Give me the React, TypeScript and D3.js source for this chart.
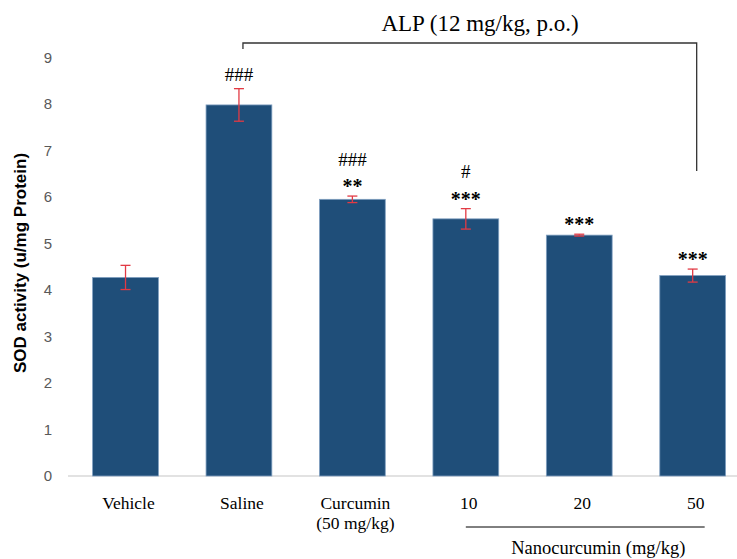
import { useEffect, useRef } from "react";
import * as d3 from "d3";

const W = 737;
const H = 559;

const groups = ["Vehicle", "Saline", "Curcumin", "10", "20", "50"];
const means = [4.27, 7.98, 5.95, 5.53, 5.18, 4.31];
const errors = [0.26, 0.35, 0.07, 0.22, 0.02, 0.14];
const hashMarks = ["", "###", "###", "#", "", ""];
const starMarks = ["", "", "**", "***", "***", "***"];
const subLabels = ["", "", "(50 mg/kg)", "", "", ""];
const yTicks = [0, 1, 2, 3, 4, 5, 6, 7, 8, 9];

const SERIF = "'Liberation Serif', 'Times New Roman', serif";
const SANS = "'Liberation Sans', Arial, sans-serif";

export default function App() {
  const ref = useRef<SVGGElement | null>(null);

  const x = d3
    .scaleBand<string>()
    .domain(groups)
    .range([68.8, 749.4])
    .paddingInner(0.42)
    .paddingOuter(0.21);
  const y = d3.scaleLinear().domain([0, 9]).range([476, 57.5]);

  useEffect(() => {
    document.body.style.margin = "0";
    const g = d3.select(ref.current);
    g.selectAll("*").remove();

    // y axis: labels only
    const axis = g
      .append("g")
      .attr("transform", "translate(68,0)")
      .call(d3.axisLeft(y).tickValues(yTicks).tickSize(0).tickPadding(16));
    axis.select(".domain").remove();
    axis
      .selectAll("text")
      .attr("fill", "#595959")
      .style("font-family", SANS)
      .style("font-size", "15px");

    // baseline
    g.append("line")
      .attr("x1", 68)
      .attr("x2", W)
      .attr("y1", y(0))
      .attr("y2", y(0))
      .attr("stroke", "#d9d9d9")
      .attr("stroke-width", 1.5);

    // bars
    g.selectAll("rect.bar")
      .data(groups)
      .join("rect")
      .attr("class", "bar")
      .attr("x", (d) => x(d)!)
      .attr("width", x.bandwidth())
      .attr("y", (_, i) => y(means[i]))
      .attr("height", (_, i) => y(0) - y(means[i]))
      .attr("fill", "#1f4e79")
      .attr("stroke", "#7f9fc0")
      .attr("stroke-width", 0.8);

    // error bars
    const cx = (i: number) => x(groups[i])! + x.bandwidth() / 2;
    groups.forEach((_, i) => {
      const top = y(means[i] + errors[i]);
      const bot = y(means[i] - errors[i]);
      const eb = g.append("g").attr("stroke", "#e23a44").attr("stroke-width", 1.3);
      eb.append("line").attr("x1", cx(i)).attr("x2", cx(i)).attr("y1", top).attr("y2", bot);
      eb.append("line").attr("x1", cx(i) - 5).attr("x2", cx(i) + 5).attr("y1", top).attr("y2", top);
      eb.append("line").attr("x1", cx(i) - 5).attr("x2", cx(i) + 5).attr("y1", bot).attr("y2", bot);

      // significance marks
      let yy = top - 14;
      if (starMarks[i]) {
        g.append("text")
          .attr("x", cx(i))
          .attr("y", yy + 11)
          .attr("text-anchor", "middle")
          .style("font-family", SERIF)
          .style("font-size", "20px")
          .style("font-weight", "bold")
          .attr("fill", "#000")
          .text(starMarks[i]);
        yy -= 23;
      }
      if (hashMarks[i]) {
        g.append("text")
          .attr("x", cx(i))
          .attr("y", yy + 6.5)
          .attr("text-anchor", "middle")
          .style("font-family", SERIF)
          .style("font-size", "19px")
          .attr("fill", "#000")
          .text(hashMarks[i]);
      }
    });

    // x labels
    groups.forEach((d, i) => {
      g.append("text")
        .attr("x", cx(i) + 3)
        .attr("y", 509)
        .attr("text-anchor", "middle")
        .style("font-family", SERIF)
        .style("font-size", "17.5px")
        .attr("fill", "#000")
        .text(d);
      if (subLabels[i]) {
        g.append("text")
          .attr("x", cx(i) + 3)
          .attr("y", 529)
          .attr("text-anchor", "middle")
          .style("font-family", SERIF)
          .style("font-size", "17.5px")
          .attr("fill", "#000")
          .text(subLabels[i]);
      }
    });

    // Nanocurcumin group line and label
    g.append("line")
      .attr("x1", cx(3))
      .attr("x2", cx(5) + 12)
      .attr("y1", 527)
      .attr("y2", 527)
      .attr("stroke", "#000")
      .attr("stroke-width", 1);
    g.append("text")
      .attr("x", (cx(3) + cx(5)) / 2 + 19)
      .attr("y", 554)
      .attr("text-anchor", "middle")
      .style("font-family", SERIF)
      .style("font-size", "18.5px")
      .attr("fill", "#000")
      .text("Nanocurcumin (mg/kg)");

    // ALP bracket
    const bx1 = cx(1) + 4;
    const bx2 = cx(5) + 4;
    g.append("path")
      .attr("d", `M${bx1},49V43H${bx2}V171`)
      .attr("fill", "none")
      .attr("stroke", "#333")
      .attr("stroke-width", 1.3);
    g.append("text")
      .attr("x", 480)
      .attr("y", 31)
      .attr("text-anchor", "middle")
      .style("font-family", SERIF)
      .style("font-size", "23px")
      .attr("fill", "#000")
      .text("ALP (12 mg/kg, p.o.)");

    // y axis title
    g.append("text")
      .attr("transform", `translate(26,${263}) rotate(-90)`)
      .attr("text-anchor", "middle")
      .style("font-family", SANS)
      .style("font-size", "17px")
      .style("font-weight", "bold")
      .attr("fill", "#000")
      .text("SOD activity (u/mg Protein)");
  }, []);

  return (
    <svg width={W} height={H} style={{ display: "block", background: "#fff" }}>
      <g ref={ref} />
    </svg>
  );
}
